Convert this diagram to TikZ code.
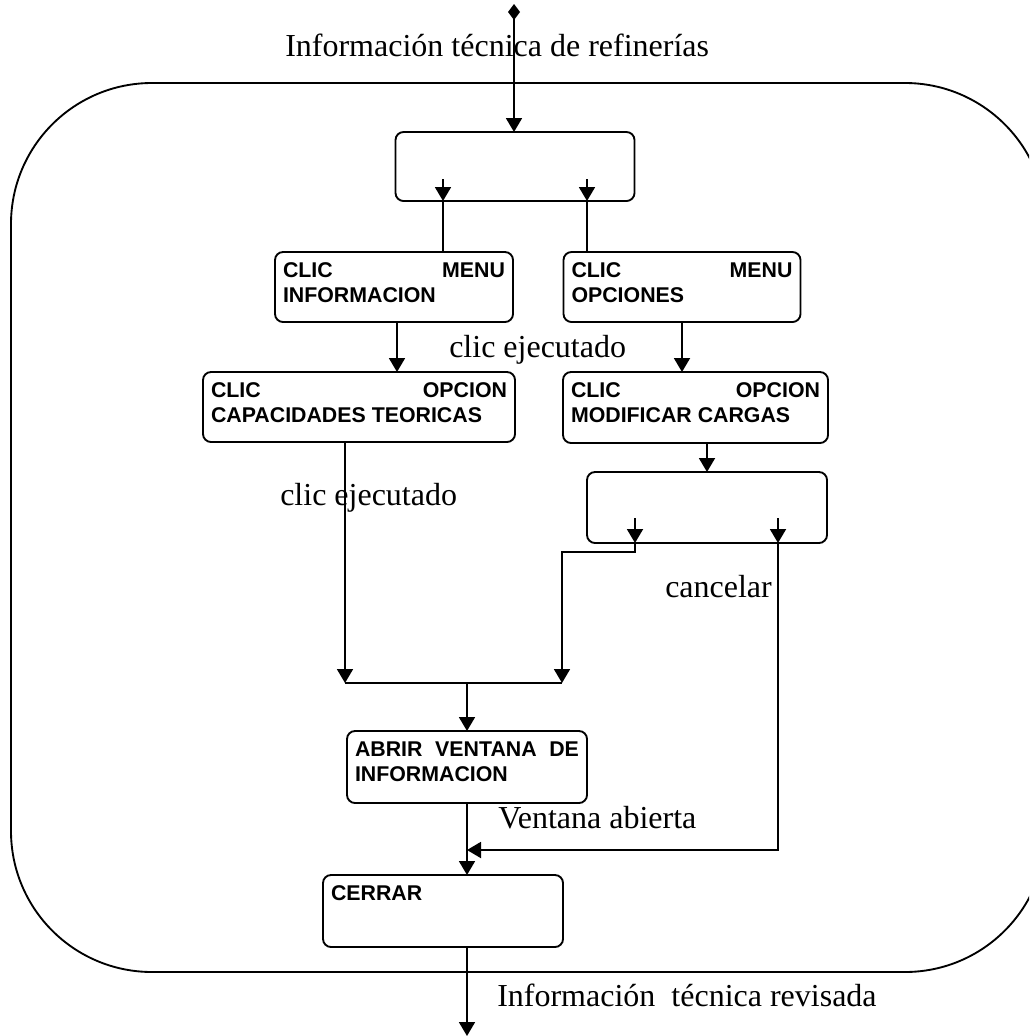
\documentclass[tikz,border=0pt]{standalone}
\usepackage{fontspec}
\setmainfont{Liberation Serif}
\setsansfont{Liberation Sans}
\usetikzlibrary{arrows.meta}

% one drawing unit = one pixel of the 1029 x 1036 page
\newdimen\pxu \pxu=0.75pt
% box label: a top-aligned paragraph filling the box interior
\newcommand{\boxtext}[3]{\parbox[t][\dimexpr#2\pxu-22\pxu\relax][t]{\dimexpr#1\pxu-16\pxu\relax}{#3}}

\tikzset{
  procbox/.style={draw, line width=1.4pt, rounded corners=8\pxu,
    inner xsep=8\pxu, inner ysep=11\pxu, outer sep=0pt,
    font=\sffamily\bfseries\fontsize{16}{18.6}\selectfont},
  conn/.style={line width=1.4pt},
  flow/.style={conn, -{Triangle[length=10.5pt, width=12pt]}},
  srcflow/.style={conn, {Diamond[length=12pt, width=9pt]}-{Triangle[length=10.5pt, width=12pt]}},
  lbl/.style={font=\fontsize{24}{28}\selectfont, inner sep=0pt, anchor=base west},
}

\begin{document}
\begin{tikzpicture}[x=1\pxu, y=-1\pxu]
\useasboundingbox (0,0) rectangle (1029,1036);
\clip (0,0) rectangle (1029,1036);

% outer boundary of the system
\draw[line width=1.4pt, rounded corners=105.75pt] (11,83) rectangle (1046,972);

% process boxes
\node[procbox, minimum width=239\pxu, minimum height=69\pxu] (B0) at (515,166.5) {\boxtext{239}{69}{}};
\node[procbox, minimum width=238\pxu, minimum height=70\pxu] (B1) at (394,287) {\boxtext{238}{70}{CLIC\hfill MENU\\INFORMACION}};
\node[procbox, minimum width=237\pxu, minimum height=70\pxu] (B2) at (682,287) {\boxtext{237}{70}{CLIC\hfill MENU\\OPCIONES}};
\node[procbox, minimum width=312\pxu, minimum height=70\pxu] (B3) at (359,407) {\boxtext{312}{70}{CLIC\hfill OPCION\\CAPACIDADES TEORICAS}};
\node[procbox, minimum width=265\pxu, minimum height=71\pxu] (B4) at (695.5,407.5) {\boxtext{265}{71}{CLIC\hfill OPCION\\MODIFICAR CARGAS}};
\node[procbox, minimum width=240\pxu, minimum height=71\pxu] (B5) at (707,507.5) {\boxtext{240}{71}{}};
\node[procbox, minimum width=240\pxu, minimum height=72\pxu] (B6) at (467,767) {\boxtext{240}{72}{ABRIR\hfill VENTANA\hfill DE\\INFORMACION}};
\node[procbox, minimum width=240\pxu, minimum height=72\pxu] (B7) at (443,911) {\boxtext{240}{72}{CERRAR}};

% free ends and branch points
\coordinate (src) at (514,4);
\coordinate (sink) at (467,1036);
\coordinate (b0a) at (443,179);
\coordinate (b0b) at (587,179);
\coordinate (b5a) at (635,518);
\coordinate (b5b) at (778,518);
\coordinate (bend) at (562,552);
\coordinate (jl) at (345,683);
\coordinate (jr) at (562,683);
\coordinate (cr) at (778,850);

% input
\draw[srcflow] (src) -- (src |- B0.north);

% first choice
\draw[flow] (b0a) -- (b0a |- B0.south);
\draw[flow] (b0b) -- (b0b |- B0.south);
\draw[conn] (b0a |- B0.south) -- (b0a |- B1.north);
\draw[conn] (b0b |- B0.south) -- (b0b |- B2.north);

\draw[flow] ([xshift=3\pxu]B1.south) -- ([xshift=3\pxu]B1.south |- B3.north);
\draw[flow] (B2.south) -- (B2.south |- B4.north);
\draw[flow] (B5.north |- B4.south) -- (B5.north);

% second choice
\draw[flow] (b5a) -- (b5a |- B5.south);
\draw[flow] (b5b) -- (b5b |- B5.south);
\draw[flow] (b5a |- B5.south) |- (bend) -- (jr);
\draw[flow] (B3.south -| jl) -- (jl);
\draw[conn] (jl) -- (jr);
\draw[flow] (B6.north |- jl) -- (B6.north);

% cancel path and closing
\draw[flow] (b5b |- B5.south) -- (cr) -- (cr -| B6.south);
\draw[flow] (B6.south) -- (B6.south |- B7.north);
\draw[flow] (B6.south |- B7.south) -- (sink);

% flow labels
\node[lbl] (tIn) at (285,56) {Información técnica de refinerías};
\node[lbl] (tClic1) at (449,357) {clic ejecutado};
\node[lbl] (tClic2) at (280,505) {clic ejecutado};
\node[lbl] (tCancel) at (665,597) {cancelar};
\node[lbl] (tOpen) at (498,828) {Ventana abierta};
\node[lbl] (tOut) at (497,1006) {Información\ \ técnica revisada};
\end{tikzpicture}
\end{document}
